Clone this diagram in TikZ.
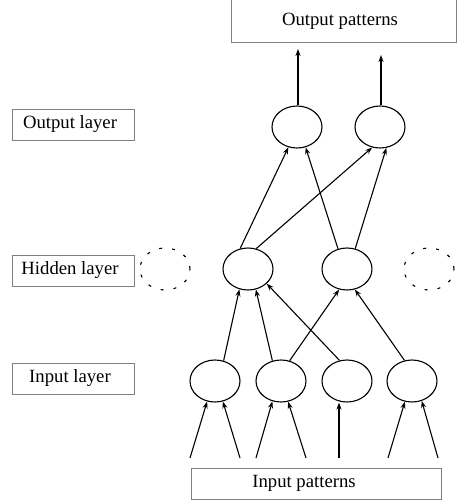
\documentclass[tikz,border=0pt]{standalone}
\usepackage{fontspec}
\setmainfont{Liberation Serif}
\usetikzlibrary{shapes.geometric,arrows.meta}
\begin{document}
\begin{tikzpicture}[x=1pt,y=-1pt,
  labelbox/.style={draw=black!50,line width=0.7pt,rectangle,inner sep=0pt},
  labeltext/.style={font=\fontsize{18.7}{20}\selectfont,inner sep=0pt},
  neuron/.style={draw,ellipse,line width=1.1pt,minimum width=50,minimum height=42,inner sep=0pt},
  ghost/.style={draw,ellipse,line width=1.1pt,dash pattern=on 3pt off 10pt,minimum width=50,minimum height=42,inner sep=0pt},
  conn/.style={line width=1.1pt,-{Stealth[length=7pt,width=5pt]}}]
\useasboundingbox (0,0) rectangle (456,501);

% layer captions
\node[labelbox,minimum width=122,minimum height=31] (outlayer) at (73,124.5) {};
\node[labeltext] (outlayertxt) at (70,124.5) {Output layer};
\node[labelbox,minimum width=122,minimum height=31] (hidlayer) at (73,270.5) {};
\node[labeltext] (hidlayertxt) at (70,270.5) {Hidden layer};
\node[labelbox,minimum width=122,minimum height=31] (inlayer) at (73,378.5) {};
\node[labeltext] (inlayertxt) at (70,378.5) {Input layer};

% pattern boxes
\node[labelbox,minimum width=225,minimum height=43] (outpat) at (343.5,21) {};
\node[labeltext] (outpattxt) at (340,21) {Output patterns};
\node[labelbox,minimum width=250,minimum height=31] (inpat) at (316,483.5) {};
\node[labeltext] (inpattxt) at (304,483.5) {Input patterns};

% neurons
\node[neuron] (o1) at (297,127) {};
\node[neuron] (o2) at (380,127) {};
\node[neuron] (h1) at (248,269) {};
\node[neuron] (h2) at (347,269) {};
\node[ghost] (d1) at (165,269) {};
\node[ghost] (d2) at (429,269) {};
\node[neuron] (i1) at (215,381) {};
\node[neuron] (i2) at (281,381) {};
\node[neuron] (i3) at (347,381) {};
\node[neuron] (i4) at (412,381) {};

% free ends of the outgoing and incoming arrows
\coordinate (y1) at (298,49);
\coordinate (y2) at (381,55);
\coordinate (x1) at (190,458);
\coordinate (x2) at (240,458);
\coordinate (x3) at (256,458);
\coordinate (x4) at (306,458);
\coordinate (x5) at (339,458);
\coordinate (x6) at (388,458);
\coordinate (x7) at (438,458);

% outputs
\draw[conn] (o1.north -| y1) -- (y1);
\draw[conn] (o2.north -| y2) -- (y2);

% hidden -> output
\draw[conn] (h1.111) -- (o1.-113);
\draw[conn] (h1.68) -- (o2.-111);
\draw[conn] (h2.114) -- (o1.-67);
\draw[conn] (h2.68) -- (o2.-73);

% input -> hidden
\draw[conn] (i1.67) -- (h1.-113);
\draw[conn] (i2.113) -- (h1.-69);
\draw[conn] (i2.67) -- (h2.-111);
\draw[conn] (i3.110) -- (h1.-38);
\draw[conn] (i4.110) -- (h2.-69);

% patterns -> input
\draw[conn] (x1) -- (i1.-111);
\draw[conn] (x2) -- (i1.-69);
\draw[conn] (x3) -- (i2.-113);
\draw[conn] (x4) -- (i2.-71);
\draw[conn] (x5) -- (x5 |- i3.south);
\draw[conn] (x6) -- (i4.-109);
\draw[conn] (x7) -- (i4.-64);
\end{tikzpicture}
\end{document}
